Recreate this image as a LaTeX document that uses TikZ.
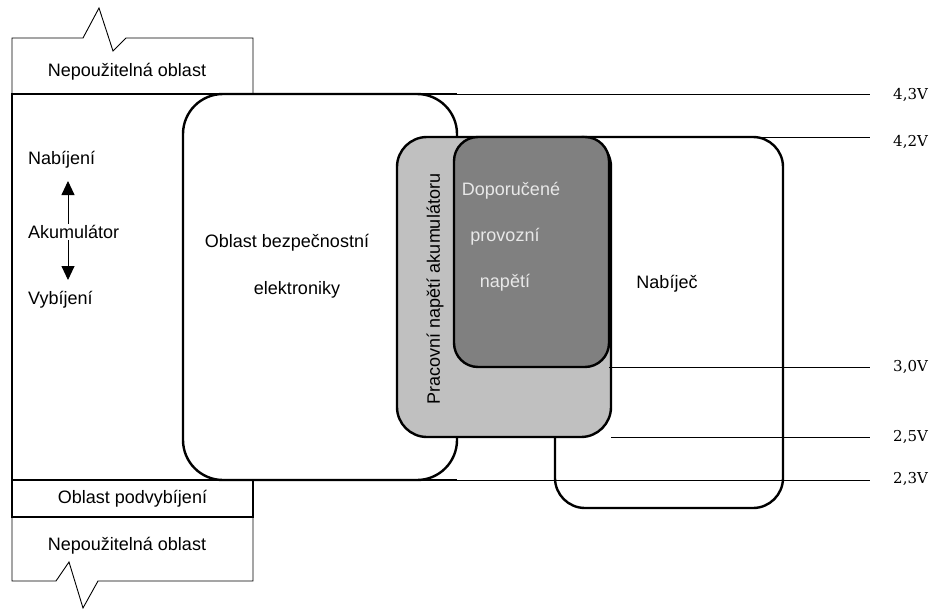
\documentclass[tikz,border=0pt]{standalone}
\usepackage{fontspec}
\setmainfont{Liberation Sans}
\newfontfamily\voltfont{DejaVu Serif}
\usepackage{tikz}
\usetikzlibrary{arrows.meta}
\definecolor{workgray}{HTML}{C0C0C0}
\definecolor{recgray}{HTML}{808080}
\definecolor{rectext}{HTML}{E8E8E8}

\begin{document}
\begin{tikzpicture}[x=1pt, y=-1pt,
    heavy/.style ={line width=2.4pt},
    light/.style ={line width=0.9pt},
    zone/.style ={draw, line width=2.4pt, inner sep=0pt, outer sep=0pt},
    caption/.style ={font=\fontsize{18}{21}\selectfont, inner sep=1pt},
    volt/.style ={font=\voltfont\fontsize{15}{18}\selectfont, anchor=west, inner sep=0pt}]
   \useasboundingbox (0,0) rectangle (934,610);
   % zones
   \node[zone, rounded corners=40pt, minimum width=274pt, minimum height=386pt] (safety) at (320,287) {};
   \node[minimum width=445pt, minimum height=386pt, inner sep=0pt, outer sep=0pt] (acc) at (234.5,287) {};
   \draw[heavy] (acc.north east) -- (acc.north west) -- (acc.south west) -- (acc.south east);
   \node[zone, rounded corners=30pt, minimum width=228pt, minimum height=371pt] (charger) at (669,322.5) {};
   \node[zone, caption, minimum width=241pt, minimum height=37pt] (podv) at (132.5,498.5) {Oblast podvybíjení};
   % unusable areas
   \draw[light] (acc.north west) -- (12,38) -- (83,38) -- (99,8) -- (113,51) -- (126,38) -- (253,38) -- (253,94);
   \draw[light] (podv.south west) -- (12,581) -- (56,581) -- (69,562) -- (83,608) -- (98,581) -- (253,581) -- (podv.south east);
   \node[caption] (unTop) at (127,72) {Nepoužitelná oblast};
   \node[caption] (unBottom) at (127,546) {Nepoužitelná oblast};
   % voltage levels
   \coordinate (e43) at (870,94);
   \coordinate (e42) at (870,137);
   \coordinate (e30) at (870,367);
   \coordinate (e25) at (870,437);
   \coordinate (e23) at (870,480);
   \draw[light] (acc.north east) to (e43);
   \draw[light] (charger.north) to (e42);
   \draw[light] (acc.south east) to (e23);
   \node[volt] (v43) at (893,95) {4,3V};
   \node[volt] (v42) at (893,142) {4,2V};
   \node[volt] (v30) at (893,367) {3,0V};
   \node[volt] (v25) at (893,437) {2,5V};
   \node[volt] (v23) at (893,479) {2,3V};
   % working and recommended voltage
   \node[zone, fill=workgray, rounded corners=30pt, minimum width=214pt, minimum height=300pt] (work) at (504,287) {};
   \node[zone, fill=recgray, rounded corners=24pt, minimum width=155pt, minimum height=230pt] (recom) at (531.5,252) {};
   \draw[light] (recom.south east) to (e30);
   \draw[light] (work.south east) to (e25);
   \node[caption, rotate=90] (workText) at (435,289) {Pracovní napětí akumulátoru};
   \node[caption, text=rectext] (recA) at (511,191) {Doporučené};
   \node[caption, text=rectext] (recB) at (505,237) {provozní};
   \node[caption, text=rectext] (recC) at (505,283) {napětí};
   % texts
   \node[caption] (safetyA) at (287,243) {Oblast bezpečnostní};
   \node[caption] (safetyB) at (297,290) {elektroniky};
   \node[caption] (chargerText) at (667,284) {Nabíječ};
   \coordinate (chgTip) at (68,181);
   \coordinate (dchgTip) at (68,280);
   \draw[light, {Triangle[width=13pt,length=14pt]}-{Triangle[width=13pt,length=14pt]}] (chgTip) to (dchgTip);
   \node[caption, anchor=west] (nab) at (27,160) {Nabíjení};
   \node[caption, anchor=west, fill=white] (akum) at (27,232) {Akumulátor};
   \node[caption, anchor=west] (vyb) at (27,300) {Vybíjení};
\end{tikzpicture}
\end{document}
